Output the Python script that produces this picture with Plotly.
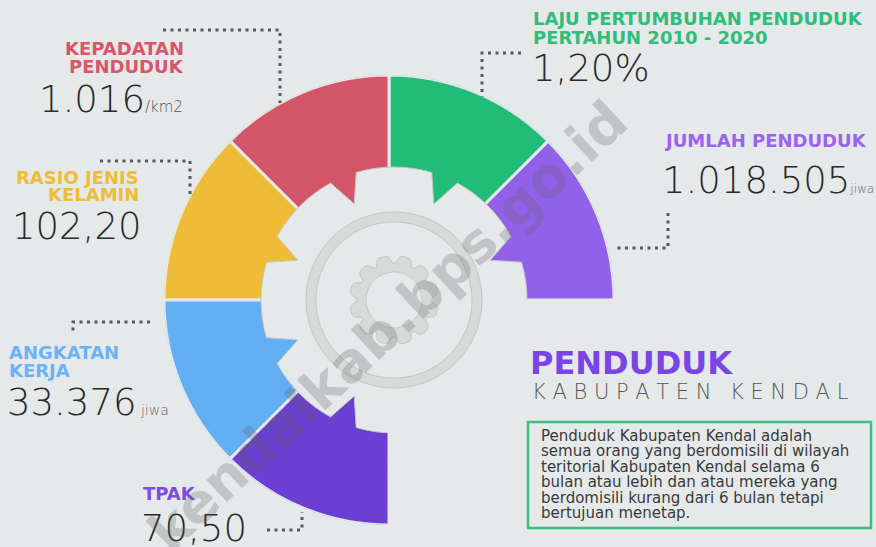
import numpy as np
import plotly.graph_objects as go

# ---------------- data ----------------
categories = ["JUMLAH PENDUDUK", "LAJU PERTUMBUHAN PENDUDUK PERTAHUN 2010 - 2020",
              "KEPADATAN PENDUDUK", "RASIO JENIS KELAMIN", "ANGKATAN KERJA", "TPAK"]
values_text = ["1.018.505", "1,20%", "1.016", "102,20", "33.376", "70,50"]
units = ["jiwa", "", "/km2", "", "jiwa", ""]
segment_colors = ["#9261ea", "#22bb78", "#d45567", "#eebc37", "#64aef3", "#6b3fd2"]
label_colors = ["#9b63ef", "#2fbd79", "#da556a", "#efbd35", "#6cb2f6", "#7b4de2"]
title_main = "PENDUDUK"
title_sub = ["KABUPATEN", "KENDAL"]
desc_lines = ["Penduduk Kabupaten Kendal adalah",
              "semua orang yang berdomisili di wilayah",
              "teritorial Kabupaten Kendal selama 6",
              "bulan atau lebih dan atau mereka yang",
              "berdomisili kurang dari 6 bulan tetapi",
              "bertujuan menetap."]
watermark = "kendalkab.bps.go.id"

# ---------------- style ----------------
BG = "#e5e9e9"
W, H = 876, 547
CX, CY, R_OUT = 389, 300, 225
GEAR_DX = 5
HEAD = dict(family="DejaVu Sans", size=18, weight=700)
NUMF = dict(family="DejaVu Sans", size=37, weight=200, color="#2a2a2a")

fig = go.Figure()

# colored ring segments (equal 45 degree sectors)
n = len(categories)
fig.add_trace(go.Barpolar(
    r=[R_OUT] * n, theta=[22.5 + 45 * i for i in range(n)], width=[45] * n,
    marker=dict(color=segment_colors, line=dict(color=BG, width=3)),
    hoverinfo="skip", showlegend=False))


def to_donut(rr, aa):
    x = rr * np.cos(np.radians(aa)) + GEAR_DX
    y = rr * np.sin(np.radians(aa))
    return np.hypot(x, y), np.degrees(np.arctan2(y, x)) % 360


# big gear cut-out
gr, ga = [], []
for k in range(8):
    c = 45 * k
    for a in np.linspace(c - 16.5, c + 16.5, 9):
        gr.append(133); ga.append(a)
    gr.append(104); ga.append(c + 22.5)
gr.append(gr[0]); ga.append(ga[0])
gr, ga = np.array(gr, float), np.array(ga, float)
dr, dt = to_donut(gr, ga)
fig.add_trace(go.Scatterpolar(r=dr, theta=dt, mode="lines", fill="toself",
                              fillcolor=BG, line=dict(width=0, color=BG),
                              hoverinfo="skip", showlegend=False))
mask = (dt >= 0) & (dt <= 270) & (ga >= 0)
fig.add_trace(go.Scatterpolar(r=dr[mask], theta=dt[mask], mode="lines",
                              line=dict(width=1, color="#c3c7c7"),
                              hoverinfo="skip", showlegend=False))

# ring icon
circ = np.linspace(0, 360, 181)
for rad, col in [(88, "#d8dada"), (78, BG)]:
    r_, t_ = to_donut(np.full_like(circ, rad), circ)
    fig.add_trace(go.Scatterpolar(r=r_, theta=t_, mode="lines", fill="toself",
                                  fillcolor=col, line=dict(width=1, color="#c2c5c5"),
                                  hoverinfo="skip", showlegend=False))

# small gear icon
sr, sa = [], []
for k in range(12):
    c = 15 + 30 * k
    for a, rr in [(c - 13, 37), (c - 8, 43), (c - 4, 44.5), (c + 4, 44.5), (c + 8, 43), (c + 13, 37)]:
        sr.append(rr); sa.append(a)
sr.append(sr[0]); sa.append(sa[0])
r_, t_ = to_donut(np.array(sr, float), np.array(sa, float))
fig.add_trace(go.Scatterpolar(r=r_, theta=t_, mode="lines", fill="toself",
                              fillcolor="#d8dada", line=dict(width=1, color="#c2c5c5"),
                              hoverinfo="skip", showlegend=False))
r_, t_ = to_donut(np.full_like(circ, 28), circ)
fig.add_trace(go.Scatterpolar(r=r_, theta=t_, mode="lines", fill="toself",
                              fillcolor=BG, line=dict(width=1, color="#c2c5c5"),
                              hoverinfo="skip", showlegend=False))

# invisible cartesian layer for annotations / shapes
fig.add_trace(go.Scatter(x=[0], y=[0], mode="markers", marker=dict(opacity=0),
                         hoverinfo="skip", showlegend=False))

ann = []


def text(x, y, s, font, xanchor="left", color=None):
    f = dict(font)
    if color:
        f["color"] = color
    ann.append(dict(x=x, y=y, xref="x", yref="y", text=s, showarrow=False,
                    xanchor=xanchor, yanchor="middle", font=f))


def unit_span(u, size=13, lead="", color="#666"):
    return f"<span style='font-size:{size}px;color:{color}'>{lead}{u}</span>" if u else ""


# Jumlah penduduk
text(662, 140, "JUMLAH PENDUDUK", HEAD, color=label_colors[0])
text(660, 180, values_text[0] + unit_span(units[0], 12), NUMF)
# Laju
text(531, 18, "LAJU PERTUMBUHAN PENDUDUK", HEAD, color=label_colors[1])
text(531, 37, "PERTAHUN 2010 - 2020", HEAD, color=label_colors[1])
text(530, 68, values_text[1], NUMF)
# Kepadatan
text(186, 48, "KEPADATAN", HEAD, "right", label_colors[2])
text(186, 66, "PENDUDUK", HEAD, "right", label_colors[2])
text(185, 99, values_text[2] + unit_span(units[2], 15, "", "#555"), NUMF, "right")
# Rasio
text(141, 177, "RASIO JENIS", HEAD, "right", label_colors[3])
text(141, 194, "KELAMIN", HEAD, "right", label_colors[3])
text(143, 226, values_text[3], NUMF, "right")
# Angkatan kerja
text(7, 352, "ANGKATAN", HEAD, color=label_colors[4])
text(7, 370, "KERJA", HEAD, color=label_colors[4])
text(5, 402, values_text[4] + unit_span(units[4], 14, " "), NUMF)
# TPAK
text(141, 493, "TPAK", HEAD, color=label_colors[5])
text(139, 528, values_text[5], NUMF)

# title
text(528, 363, title_main, dict(family="DejaVu Sans", size=32, weight=700), color="#7b45e6")
SUBF = dict(family="DejaVu Sans", size=21, weight=200)
text(530, 392, " ".join(title_sub[0]), SUBF, color="#555")
text(728, 392, " ".join(title_sub[1]), SUBF, color="#555")
for i, line in enumerate(desc_lines):
    text(539, 436 + 15.4 * i, line, dict(family="DejaVu Sans", size=15), color="#3a3a3a")

# watermark
ann.append(dict(x=388, y=326, xref="x", yref="y", text=watermark, showarrow=False,
                textangle=-43, font=dict(family="DejaVu Sans", size=55, weight=700,
                                         color="rgba(95,95,95,0.26)")))

DOT = dict(color="#555a5a", width=3, dash="3px,4.5px")
shapes = []
for pts in [[(163, 30), (280, 30), (280, 103)],
            [(100, 161), (190, 161), (190, 194)],
            [(521, 53), (482, 53), (482, 97)],
            [(668, 213), (668, 248), (615, 248)],
            [(150, 322), (73, 322), (73, 334)],
            [(267, 530), (302, 530), (302, 512)]]:
    path = "M " + " L ".join(f"{x},{y}" for x, y in pts)
    shapes.append(dict(type="path", path=path, xref="x", yref="y", line=DOT, layer="above"))
shapes.append(dict(type="rect", x0=528, x1=871, y0=422, y1=528, xref="x", yref="y",
                   line=dict(color="#3dbf7f", width=2.5)))

fig.update_layout(
    width=W, height=H, autosize=False, margin=dict(l=0, r=0, t=0, b=0),
    paper_bgcolor=BG, plot_bgcolor="rgba(0,0,0,0)",
    showlegend=False, annotations=ann, shapes=shapes,
    xaxis=dict(range=[0, W], visible=False, domain=[0, 1], fixedrange=True),
    yaxis=dict(range=[H, 0], visible=False, domain=[0, 1], fixedrange=True),
    polar=dict(
        domain=dict(x=[(CX - R_OUT) / W, (CX + R_OUT) / W],
                    y=[(H - CY - R_OUT) / H, (H - CY + R_OUT) / H]),
        bgcolor="rgba(0,0,0,0)",
        radialaxis=dict(range=[0, R_OUT], visible=False),
        angularaxis=dict(visible=False, rotation=0, direction="counterclockwise"),
        barmode="overlay", bargap=0),
)
fig.write_html("out.html", config=dict(displayModeBar=False),
               post_script="document.body.style.margin='0';document.body.style.background='%s';" % BG)
